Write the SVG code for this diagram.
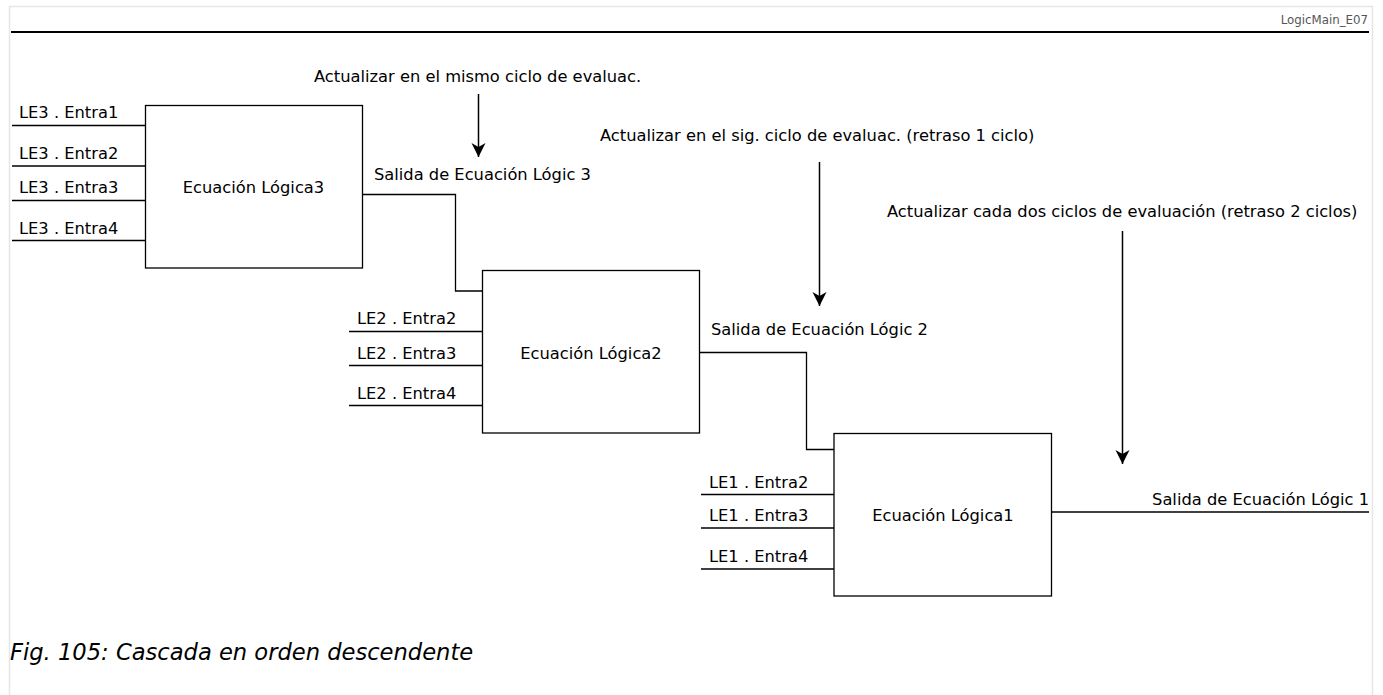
<svg xmlns="http://www.w3.org/2000/svg" width="1383" height="695" viewBox="0 0 1383 695">
<style>
text{font-family:"DejaVu Sans","Liberation Sans",sans-serif;font-size:16.3px;fill:#000}
.box{fill:#fff;stroke:#000;stroke-width:1.3}
.ln{fill:none;stroke:#000;stroke-width:1.3}
.arr{fill:none;stroke:#000;stroke-width:1.5}
.mid{text-anchor:middle}
.hdr{font-size:11.8px;fill:#555;text-anchor:end}
.cap{font-size:22.6px;font-style:italic}
</style>
<defs>
<marker id="ah" markerUnits="userSpaceOnUse" markerWidth="14" markerHeight="16" refX="14" refY="7" orient="auto" viewBox="0 0 14 14">
<path d="M0,0 L14,7 L0,14 L4,7 z" fill="#000"/>
</marker>
</defs>
<rect width="1383" height="695" fill="#fff"/>
<g id="page">
<path d="M9.5,695 V6.5 H1372.5 V695" fill="none" stroke="#e6e6e6" stroke-width="1.5"/>
<line x1="11" y1="32" x2="1369" y2="32" stroke="#000" stroke-width="2.2"/>
<text class="hdr" x="1368" y="24">LogicMain_E07</text>
</g>
<g id="connectors">
<line class="ln" x1="12" y1="125.5" x2="145.5" y2="125.5"/>
<line class="ln" x1="12" y1="166" x2="145.5" y2="166"/>
<line class="ln" x1="12" y1="200.5" x2="145.5" y2="200.5"/>
<line class="ln" x1="12" y1="240.5" x2="145.5" y2="240.5"/>
<line class="ln" x1="349" y1="331.5" x2="482.5" y2="331.5"/>
<line class="ln" x1="349" y1="365.5" x2="482.5" y2="365.5"/>
<line class="ln" x1="349" y1="405.5" x2="482.5" y2="405.5"/>
<line class="ln" x1="701" y1="494.5" x2="834" y2="494.5"/>
<line class="ln" x1="701" y1="528" x2="834" y2="528"/>
<line class="ln" x1="701" y1="569" x2="834" y2="569"/>
<polyline class="ln" points="362.5,194.5 455.5,194.5 455.5,291 482.5,291"/>
<polyline class="ln" points="699.5,352.5 806.5,352.5 806.5,449.5 834,449.5"/>
<line class="ln" x1="1051.5" y1="512" x2="1369" y2="512"/>
<line class="arr" x1="478.5" y1="94" x2="478.5" y2="157" marker-end="url(#ah)"/>
<line class="arr" x1="819.5" y1="162" x2="819.5" y2="306" marker-end="url(#ah)"/>
<line class="arr" x1="1122.5" y1="231" x2="1122.5" y2="464" marker-end="url(#ah)"/>
</g>
<g id="node-le3">
<rect class="box" x="145.5" y="105.5" width="217" height="162.5"/>
<text class="mid" x="253.5" y="193.3">Ecuación Lógica3</text>
</g>
<g id="node-le2">
<rect class="box" x="482.5" y="270.5" width="217" height="162.5"/>
<text class="mid" x="591" y="358.7">Ecuación Lógica2</text>
</g>
<g id="node-le1">
<rect class="box" x="834" y="433.5" width="217.5" height="162.5"/>
<text class="mid" x="943" y="521.3">Ecuación Lógica1</text>
</g>
<g id="labels">
<text x="19" y="118.3">LE3 . Entra1</text>
<text x="19" y="159.3">LE3 . Entra2</text>
<text x="19" y="193.3">LE3 . Entra3</text>
<text x="19" y="234">LE3 . Entra4</text>
<text x="357" y="324.3">LE2 . Entra2</text>
<text x="357" y="358.7">LE2 . Entra3</text>
<text x="357" y="399.3">LE2 . Entra4</text>
<text x="709" y="487.7">LE1 . Entra2</text>
<text x="709" y="521.3">LE1 . Entra3</text>
<text x="709" y="561.7">LE1 . Entra4</text>
<text x="374" y="180">Salida de Ecuación Lógic 3</text>
<text x="711" y="335">Salida de Ecuación Lógic 2</text>
<text x="1369" y="505" text-anchor="end">Salida de Ecuación Lógic 1</text>
<text x="314" y="82">Actualizar en el mismo ciclo de evaluac.</text>
<text x="600" y="141">Actualizar en el sig. ciclo de evaluac. (retraso 1 ciclo)</text>
<text x="887" y="217">Actualizar cada dos ciclos de evaluación (retraso 2 ciclos)</text>
<text class="cap" x="10" y="660">Fig. 105: Cascada en orden descendente</text>
</g>
</svg>
